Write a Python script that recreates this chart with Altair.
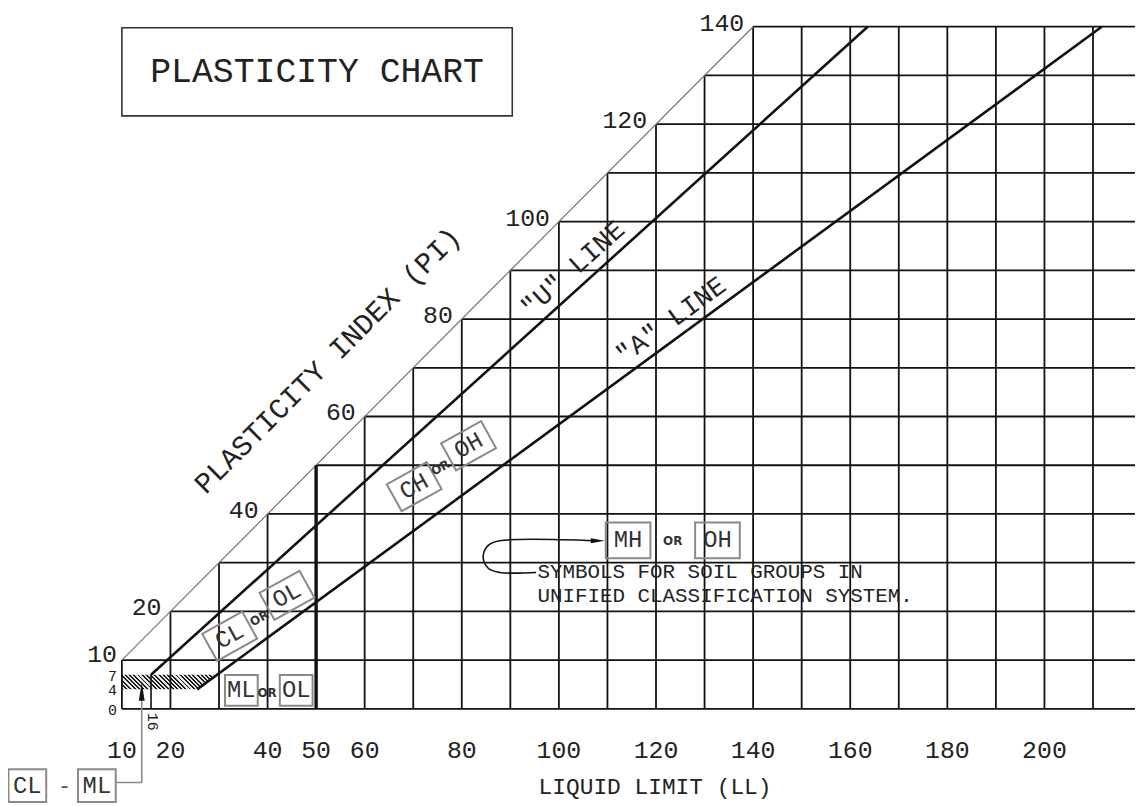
import altair as alt
import pandas as pd

# ---------------- data (chart units: LL on x, PI on y) ----------------
VGRID_LL = [10, 20, 30, 40, 50, 60, 70, 80, 90, 100, 110, 120, 130, 140, 150, 160, 170, 180, 190, 200, 210]
VGRID_TOP = [10, 20, 30, 40, 50, 60, 70, 80, 90, 100, 110, 120, 130, 140, 140, 140, 140, 140, 140, 140, 140]
HGRID_PI = [0, 10, 20, 30, 40, 50, 60, 70, 80, 90, 100, 110, 120, 130, 140]
HGRID_START = [10, 10, 20, 30, 40, 50, 60, 70, 80, 90, 100, 110, 120, 130, 140]
HGRID_END = [225] * 15

DIAG_LL = [10, 140]
DIAG_PI = [10, 140]
U_LINE_LL = [16, 163.6]
U_LINE_PI = [7, 140]
A_LINE_LL = [25.5, 211.8]
A_LINE_PI = [4, 140]
LL50_LINE = {"ll": [50], "lo": [0], "hi": [50]}
LL16_LINE = {"ll": [16], "lo": [0], "hi": [7]}

HATCH_LL = [10, 25.5, 29.6]
HATCH_LO = [4, 4, 7]
HATCH_HI = [7, 7, 7]

Y_DIAG_LABELS = [20, 40, 60, 80, 100, 120, 140]
Y_LEFT_BIG = [10]
Y_LEFT_SMALL = [7, 4, 0]
X_LABELS = [10, 20, 40, 50, 60, 80, 100, 120, 140, 160, 180, 200]

TITLE_BOX = {"x1": [10], "x2": [90.4], "y1": [121.7], "y2": [139.8]}
TITLE = {"ll": [50.2], "pi": [130.8], "text": ["PLASTICITY CHART"]}

# rotated boxed labels
ROT_BOX_LL = [32.2, 44.0, 70.2, 81.4]
ROT_BOX_PI = [14.9, 23.3, 45.6, 54.0]
ROT_BOX_TXT = ["CL", "OL", "CH", "OH"]
ROT_OR_LL = [38.3, 75.6]
ROT_OR_PI = [18.6, 49.5]

# horizontal boxed labels (ML or OL)
ML_BOX_LL = [34.6, 45.9]
ML_BOX_PI = [3.8, 3.8]
ML_BOX_TXT = ["ML", "OL"]
ML_OR = {"ll": [39.9], "pi": [3.2]}

# legend (MH or OH)
MH_BOX_LL = [114.25, 132.66]
MH_BOX_PI = [34.6, 34.6]
MH_BOX_TXT = ["MH", "OH"]
MH_OR = {"ll": [123.45], "pi": [34.4]}
MH_PATH_LL = [107.8, 87.8, 85.5, 84.4, 85.5, 87.8, 95.3]
MH_PATH_PI = [34.5, 34.5, 33.6, 31.2, 28.8, 28.0, 28.0]
MH_ARROW = {"ll": [108.0], "pi": [34.5]}
NOTE_LL = [95.6, 95.6]
NOTE_PI = [28.02, 23.13]
NOTE_TXT = ["SYMBOLS FOR SOIL GROUPS IN", "UNIFIED CLASSIFICATION SYSTEM."]

# CL - ML
CLML_BOX_LL = [-9.47, 4.85]
CLML_BOX_PI = [-15.75, -15.75]
CLML_BOX_TXT = ["CL", "ML"]
CLML_DASH = {"ll": [-1.8], "pi": [-15.75]}
CLML_PATH_LL = [8.8, 14.09, 14.09]
CLML_PATH_PI = [-15.1, -15.1, 2.0]
CLML_ARROW = {"ll": [14.09], "pi": [3.5]}
LABEL_16 = {"ll": [16.3], "pi": [-2.65], "text": ["16"]}

AXIS_TITLES = {"ll": [119.8, 52.4], "pi": [-16.0, 71.5],
               "text": ["LIQUID LIMIT (LL)", "PLASTICITY INDEX (PI)"], "angle": [0, 315],
               "size": [23, 29]}
LINE_LABELS = {"ll": [102.9, 123.1], "pi": [90.3, 79.7],
               "text": ['"U" LINE', '"A" LINE'], "angle": [318, 324]}

# ---------------- layout ----------------
W, H = 1135, 798
PX_LL, PX_PI = 4.89, 4.907
LL10_PX, PI0_PX = 122.7 - 8, 711 - 8
X_DOMAIN = [10 - LL10_PX / PX_LL, 10 + (W - LL10_PX) / PX_LL]
Y_DOMAIN = [-(H - PI0_PX) / PX_PI, PI0_PX / PX_PI]

FONT = "Liberation Mono"
INK = "#111111"
TXT = "#222222"
BOXC = "#8a8a8a"

xs = alt.Scale(domain=X_DOMAIN, nice=False, zero=False)
ys = alt.Scale(domain=Y_DOMAIN, nice=False, zero=False)


def X(f):
    return alt.X(f, type="quantitative", scale=xs, axis=None)


def Y(f):
    return alt.Y(f, type="quantitative", scale=ys, axis=None)


def df(**kw):
    return pd.DataFrame(kw)


layers = []

# hatched CL-ML band
stops = []
n = 26
for i in range(n):
    a, b, c = i / n, (i + 0.45) / n, (i + 1) / n
    stops += [alt.GradientStop(color="#1a1a1a", offset=a), alt.GradientStop(color="#1a1a1a", offset=b),
              alt.GradientStop(color="#e6e6e6", offset=b), alt.GradientStop(color="#e6e6e6", offset=c)]
hatch = alt.Gradient(gradient="linear", stops=stops, x1=0, y1=1, x2=1.127, y2=0.827)
layers.append(alt.Chart(df(ll=HATCH_LL, lo=HATCH_LO, hi=HATCH_HI)).mark_area(color=hatch).encode(
    x=X("ll"), y=Y("lo"), y2=alt.Y2("hi")))

# grid
layers.append(alt.Chart(df(ll=VGRID_LL, lo=[0] * len(VGRID_LL), hi=VGRID_TOP)).mark_rule(
    color=INK, strokeWidth=1.8).encode(x=X("ll"), y=Y("lo"), y2=alt.Y2("hi")))
layers.append(alt.Chart(df(pi=HGRID_PI, a=HGRID_START, b=HGRID_END)).mark_rule(
    color=INK, strokeWidth=1.8).encode(y=Y("pi"), x=X("a"), x2=alt.X2("b")))

# diagonal boundary
layers.append(alt.Chart(df(ll=DIAG_LL, pi=DIAG_PI)).mark_line(color="#777777", strokeWidth=1.2).encode(
    x=X("ll"), y=Y("pi")))
# U and A lines
layers.append(alt.Chart(df(ll=U_LINE_LL, pi=U_LINE_PI)).mark_line(color=INK, strokeWidth=2.6).encode(
    x=X("ll"), y=Y("pi")))
layers.append(alt.Chart(df(ll=A_LINE_LL, pi=A_LINE_PI)).mark_line(color=INK, strokeWidth=2.6).encode(
    x=X("ll"), y=Y("pi")))
# LL = 50 and LL = 16 verticals
layers.append(alt.Chart(pd.DataFrame(LL50_LINE)).mark_rule(color=INK, strokeWidth=3.4).encode(
    x=X("ll"), y=Y("lo"), y2=alt.Y2("hi")))
layers.append(alt.Chart(pd.DataFrame(LL16_LINE)).mark_rule(color=INK, strokeWidth=1.6).encode(
    x=X("ll"), y=Y("lo"), y2=alt.Y2("hi")))

# title
layers.append(alt.Chart(pd.DataFrame(TITLE_BOX)).mark_rect(fillOpacity=0, stroke="#333333", strokeWidth=1.6).encode(
    x=X("x1"), x2=alt.X2("x2"), y=Y("y1"), y2=alt.Y2("y2")))
layers.append(alt.Chart(pd.DataFrame(TITLE)).mark_text(font=FONT, fontSize=35, color=TXT).encode(
    x=X("ll"), y=Y("pi"), text="text:N"))

# axis numbers
layers.append(alt.Chart(df(v=Y_DIAG_LABELS)).mark_text(font=FONT, fontSize=25, color=TXT, align="right",
                                                        dx=-9, dy=-4).encode(
    x=X("v"), y=Y("v"), text=alt.Text("v:Q")))
layers.append(alt.Chart(df(v=Y_LEFT_BIG, x=[10])).mark_text(font=FONT, fontSize=25, color=TXT, align="right",
                                                             dx=-5, dy=-6).encode(
    x=X("x"), y=Y("v"), text=alt.Text("v:Q")))
layers.append(alt.Chart(df(v=Y_LEFT_SMALL, x=[10] * 3)).mark_text(font=FONT, fontSize=15, color=TXT, align="right",
                                                                   dx=-5, dy=1).encode(
    x=X("x"), y=Y("v"), text=alt.Text("v:Q")))
layers.append(alt.Chart(df(v=X_LABELS, z=[0] * len(X_LABELS))).mark_text(font=FONT, fontSize=25, color=TXT,
                                                                          dy=41).encode(
    x=X("v"), y=Y("z"), text=alt.Text("v:Q")))

# axis titles and line labels
layers.append(alt.Chart(pd.DataFrame(AXIS_TITLES)).mark_text(font=FONT, color=TXT).encode(
    x=X("ll"), y=Y("pi"), text="text:N", angle=alt.Angle("angle:Q", scale=None),
    size=alt.Size("size:Q", scale=None)))
layers.append(alt.Chart(pd.DataFrame(LINE_LABELS)).mark_text(font=FONT, fontSize=27, color=TXT).encode(
    x=X("ll"), y=Y("pi"), text="text:N", angle=alt.Angle("angle:Q", scale=None)))


def box_path(w, h):
    r = h / w
    return f"M-1,-{r:.3f}H1V{r:.3f}H-1Z"


def boxes(ll, pi, txt, w, h, angle=0, fs=24):
    d = df(ll=ll, pi=pi, text=txt)
    b = alt.Chart(d).mark_point(shape=box_path(w, h), size=w * w, filled=False, stroke=BOXC,
                                strokeWidth=2, angle=angle, opacity=1).encode(x=X("ll"), y=Y("pi"))
    t = alt.Chart(d).mark_text(font=FONT, fontSize=fs, color="#333333", angle=angle).encode(
        x=X("ll"), y=Y("pi"), text="text:N")
    return [b, t]


def small_or(ll, pi, angle=0):
    return alt.Chart(df(ll=ll, pi=pi, text=["OR"] * len(ll))).mark_text(
        font="DejaVu Sans", fontSize=12, fontWeight="bold", color="#333333", angle=angle).encode(
        x=X("ll"), y=Y("pi"), text="text:N")


layers += boxes(ROT_BOX_LL, ROT_BOX_PI, ROT_BOX_TXT, 46, 31, angle=331)
layers.append(small_or(ROT_OR_LL, ROT_OR_PI, angle=331))
layers += boxes(ML_BOX_LL, ML_BOX_PI, ML_BOX_TXT, 33, 31)
layers.append(small_or(ML_OR["ll"], ML_OR["pi"]))
layers += boxes(MH_BOX_LL, MH_BOX_PI, MH_BOX_TXT, 45, 36)
layers.append(small_or(MH_OR["ll"], MH_OR["pi"]))
layers += boxes(CLML_BOX_LL, CLML_BOX_PI, CLML_BOX_TXT, 38, 33)
layers.append(alt.Chart(pd.DataFrame(CLML_DASH)).mark_text(font=FONT, fontSize=22, color="#555555", text="-").encode(
    x=X("ll"), y=Y("pi")))

# legend arrow path and note
layers.append(alt.Chart(df(ll=MH_PATH_LL, pi=MH_PATH_PI, i=list(range(len(MH_PATH_LL))))).mark_line(
    color=INK, strokeWidth=1.6, interpolate="catmull-rom").encode(x=X("ll"), y=Y("pi"), order="i:Q"))
layers.append(alt.Chart(pd.DataFrame(MH_ARROW)).mark_point(shape="M1,0L-1,0.36L-1,-0.36Z", size=196, filled=True,
                                                            color=INK, opacity=1).encode(x=X("ll"), y=Y("pi")))
layers.append(alt.Chart(df(ll=NOTE_LL, pi=NOTE_PI, text=NOTE_TXT)).mark_text(
    font=FONT, fontSize=21, color=TXT, align="left").encode(x=X("ll"), y=Y("pi"), text="text:N"))

# CL - ML pointer
layers.append(alt.Chart(df(ll=CLML_PATH_LL, pi=CLML_PATH_PI, i=[0, 1, 2])).mark_line(
    color="#8a8a8a", strokeWidth=1.6).encode(x=X("ll"), y=Y("pi"), order="i:Q"))
layers.append(alt.Chart(pd.DataFrame(CLML_ARROW)).mark_point(shape="M0,-1L0.33,1L-0.33,1Z", size=324, filled=True,
                                                              color=INK, opacity=1).encode(x=X("ll"), y=Y("pi")))
layers.append(alt.Chart(pd.DataFrame(LABEL_16)).mark_text(font=FONT, fontSize=15, color=TXT, angle=90).encode(
    x=X("ll"), y=Y("pi"), text="text:N"))

chart = alt.layer(*layers).properties(
    width=W, height=H, padding=0, autosize=alt.AutoSizeParams(type="none")
).configure_view(stroke=None)

chart.save("out.html", embed_options={"renderer": "svg", "actions": False})
